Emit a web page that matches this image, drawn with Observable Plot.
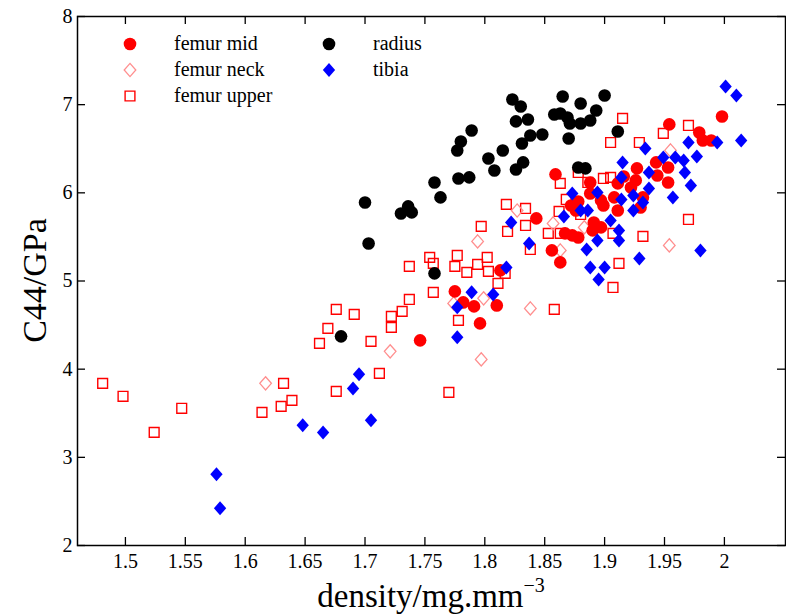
<!DOCTYPE html>
<html><head><meta charset="utf-8">
<script src="https://cdn.jsdelivr.net/npm/d3@7"></script>
<script src="https://cdn.jsdelivr.net/npm/@observablehq/plot@0.6"></script>
<style>
body{margin:0;background:#fff;}
#wrap{position:relative;width:786px;height:616px;overflow:hidden;}
#legend{position:absolute;left:0;top:0;font-family:"Liberation Serif",serif;font-size:20px;color:#000;}
.lg{position:absolute;white-space:nowrap;line-height:20px;}
.lg svg{position:absolute;}
</style></head><body><div id="wrap"></div>
<script>
const xTicks = [1.5, 1.55, 1.6, 1.65, 1.7, 1.75, 1.8, 1.85, 1.9, 1.95, 2];
const yTicks = [2, 3, 4, 5, 6, 7, 8];
const xDomain = [1.46, 2.051];
const yDomain = [2, 8];
const seriesNames = ["femur mid", "femur neck", "femur upper", "radius", "tibia"];

const femurMidX = [1.746,1.775,1.782,1.791,1.796,1.810,1.813,1.843,1.859,1.856,1.863,1.867,1.873,1.878,1.872,1.878,1.876,1.888,1.888,1.897,1.899,1.891,1.897,1.890,1.911,1.908,1.911,1.916,1.927,1.926,1.922,1.932,1.930,1.943,1.944,1.953,1.953,1.954,1.979,1.982,1.989,1.998];
const femurMidY = [4.327,4.882,4.757,4.712,4.519,4.723,5.120,5.710,6.209,5.347,5.211,5.540,5.517,5.494,5.857,5.902,5.800,6.118,5.993,5.914,5.857,5.664,5.608,5.574,5.800,5.948,6.107,6.186,6.277,6.141,6.061,5.948,5.834,6.345,6.197,6.118,6.288,6.776,6.685,6.594,6.594,6.866];

const femurNeckX = [1.617,1.721,1.774,1.797,1.794,1.799,1.838,1.827,1.857,1.883,1.863,1.954,1.955];
const femurNeckY = [3.839,4.202,4.746,4.111,5.449,4.803,4.689,5.800,5.653,5.608,5.347,5.404,6.481];

const femurUpperX = [1.481,1.498,1.524,1.547,1.614,1.632,1.630,1.639,1.662,1.669,1.676,1.676,1.691,1.705,1.712,1.722,1.722,1.731,1.737,1.737,1.754,1.757,1.757,1.770,1.775,1.777,1.778,1.785,1.794,1.802,1.803,1.811,1.817,1.818,1.797,1.819,1.834,1.834,1.862,1.853,1.863,1.880,1.907,1.932,1.970,1.912,1.907,1.858,1.838,1.863,1.868,1.886,1.899,1.905,1.878,1.915,1.905,1.929,1.949,1.970];
const femurUpperY = [3.839,3.692,3.283,3.556,3.510,3.839,3.578,3.646,4.293,4.463,4.678,3.748,4.621,4.315,3.952,4.599,4.474,4.655,4.791,5.166,5.268,5.200,4.871,3.737,5.166,5.290,4.553,5.098,5.188,5.268,5.109,4.973,5.086,5.869,5.619,5.562,5.823,5.630,5.789,5.540,5.540,5.755,5.540,5.506,5.698,5.200,4.927,4.678,5.358,6.107,5.925,6.118,6.163,6.175,6.231,6.844,6.571,6.571,6.674,6.764];

const radiusX = [1.700,1.703,1.680,1.730,1.736,1.739,1.758,1.758,1.763,1.777,1.780,1.789,1.778,1.787,1.803,1.808,1.815,1.823,1.830,1.826,1.836,1.838,1.848,1.831,1.826,1.832,1.865,1.880,1.900,1.858,1.863,1.869,1.871,1.880,1.888,1.893,1.870,1.911,1.878,1.884];
const radiusY = [5.891,5.426,4.372,5.766,5.846,5.778,5.086,6.118,5.948,6.481,6.583,6.707,6.163,6.175,6.390,6.254,6.481,7.059,6.980,6.810,6.832,6.651,6.662,6.560,6.265,6.345,7.093,7.014,7.104,6.889,6.900,6.855,6.787,6.787,6.821,6.934,6.617,6.696,6.288,6.277];

const tibiaX = [1.576,1.579,1.648,1.665,1.690,1.695,1.705,1.777,1.777,1.789,1.807,1.818,1.822,1.837,1.866,1.873,1.880,1.886,1.894,1.894,1.885,1.888,1.900,1.895,1.905,1.912,1.912,1.914,1.914,1.915,1.924,1.932,1.924,1.929,1.980,1.934,1.937,1.937,1.949,1.959,1.966,1.967,1.972,1.957,1.970,1.977,1.994,2.014,2.001,2.010];
const tibiaY = [2.807,2.422,3.363,3.283,3.782,3.941,3.420,4.361,4.701,4.871,4.848,5.154,5.664,5.426,5.732,5.993,5.800,5.800,6.005,5.460,5.358,5.154,5.154,5.018,5.687,5.574,5.460,5.925,6.175,6.345,5.971,5.891,5.800,5.256,5.347,6.503,6.231,6.050,6.401,6.401,6.367,6.231,6.084,5.948,6.571,6.413,6.571,6.594,7.206,7.104];

const toRows = (xs, ys) => xs.map((x, i) => ({x, y: ys[i]}));
const femurMid = toRows(femurMidX, femurMidY);
const femurNeck = toRows(femurNeckX, femurNeckY);
const femurUpper = toRows(femurUpperX, femurUpperY);
const radius = toRows(radiusX, radiusY);
const tibia = toRows(tibiaX, tibiaY);

// custom symbols
const circleSym = {draw(ctx, size){const r=Math.sqrt(size/Math.PI); ctx.moveTo(r,0); ctx.arc(0,0,r,0,2*Math.PI); ctx.closePath();}};
const diamondSym = {draw(ctx, size){const r=Math.sqrt(size/Math.PI); const w=r*0.88; ctx.moveTo(0,-r); ctx.lineTo(w,0); ctx.lineTo(0,r); ctx.lineTo(-w,0); ctx.closePath();}};
const squareSym = {draw(ctx, size){const r=Math.sqrt(size/Math.PI); ctx.moveTo(-r,-r); ctx.lineTo(r,-r); ctx.lineTo(r,r); ctx.lineTo(-r,r); ctx.closePath();}};

const styles = {
  "femur mid": {symbol: circleSym, r: 6.3, fill: "#ff0000", stroke: "none"},
  "femur neck": {symbol: diamondSym, r: 6.6, fill: "none", stroke: "#ff8f8f", strokeWidth: 1.3},
  "femur upper": {symbol: squareSym, r: 4.9, fill: "none", stroke: "#ff0000", strokeWidth: 1.4},
  "radius": {symbol: circleSym, r: 6.3, fill: "#000000", stroke: "none"},
  "tibia": {symbol: diamondSym, r: 7, fill: "#0000ff", stroke: "none"}
};

const W = 786, H = 616, mL = 77, mR = 1, mT = 16, mB = 71;
const fw = W - mL - mR, fh = H - mT - mB;
const tickLen = 8;

const chart = Plot.plot({
  width: W, height: H,
  marginLeft: mL, marginRight: mR, marginTop: mT, marginBottom: mB,
  x: {domain: xDomain, label: null},
  y: {domain: yDomain, label: null},
  style: {fontFamily: "Liberation Serif, serif", fontSize: "20px", color: "#000", background: "#fff"},
  marks: [
    Plot.dot(femurUpper, {x: "x", y: "y", ...styles["femur upper"]}),
    Plot.dot(femurNeck, {x: "x", y: "y", ...styles["femur neck"]}),
    Plot.dot(femurMid, {x: "x", y: "y", ...styles["femur mid"]}),
    Plot.dot(radius, {x: "x", y: "y", ...styles["radius"]}),
    Plot.dot(tibia, {x: "x", y: "y", ...styles["tibia"]}),
    Plot.frame({stroke: "#000", strokeWidth: 1.5}),
    Plot.tickX(xTicks, {x: d => d, insetTop: fh - tickLen, stroke: "#000", strokeWidth: 1.3}),
    Plot.tickX(xTicks, {x: d => d, insetBottom: fh - tickLen, stroke: "#000", strokeWidth: 1.3}),
    Plot.tickY(yTicks, {y: d => d, insetRight: fw - tickLen, stroke: "#000", strokeWidth: 1.3}),
    Plot.tickY(yTicks, {y: d => d, insetLeft: fw - tickLen, stroke: "#000", strokeWidth: 1.3}),
    Plot.axisX(xTicks, {tickSize: 0, tickPadding: 8, fontSize: 20, tickFormat: d => String(d), label: null}),
    Plot.axisY(yTicks, {tickSize: 0, tickPadding: 5, fontSize: 20, tickFormat: d => String(d), label: null})
  ]
});

const wrap = document.getElementById("wrap");
wrap.appendChild(chart);

// axis titles
const svg = d3.select(chart);
const xt = svg.append("text")
  .attr("x", mL + fw / 2).attr("y", 607)
  .attr("text-anchor", "middle")
  .attr("font-family", "Liberation Serif, serif").attr("font-size", 33).attr("fill", "#000");
xt.append("tspan").text("density/mg.mm");
xt.append("tspan").text("\u22123").attr("font-size", 20).attr("dy", -15);

svg.append("text")
  .attr("transform", `translate(38,${mT + fh / 2}) rotate(-90)`)
  .attr("text-anchor", "middle").attr("dominant-baseline", "middle")
  .attr("font-family", "Liberation Serif, serif").attr("font-size", 34).attr("fill", "#000")
  .text("C44/GPa");

// legend
const legend = document.createElement("div");
legend.id = "legend";
wrap.appendChild(legend);
const legendPos = [
  {name: "femur mid", mx: 130, tx: 174, y: 44},
  {name: "femur neck", mx: 130, tx: 174, y: 70},
  {name: "femur upper", mx: 130, tx: 174, y: 96},
  {name: "radius", mx: 329, tx: 373, y: 44},
  {name: "tibia", mx: 329, tx: 373, y: 70}
];
for (const p of legendPos) {
  const st = styles[p.name];
  const s = d3.create("svg").attr("width", 20).attr("height", 20)
    .style("left", (p.mx - 10) + "px").style("top", (p.y - 10) + "px").style("position", "absolute");
  const path = d3.path();
  st.symbol.draw(path, Math.PI * st.r * st.r);
  s.append("path").attr("transform", "translate(10,10)").attr("d", path.toString())
    .attr("fill", st.fill).attr("stroke", st.stroke).attr("stroke-width", st.strokeWidth || 0);
  legend.appendChild(s.node());
  const t = document.createElement("div");
  t.className = "lg";
  t.style.left = p.tx + "px";
  t.style.top = (p.y - 11) + "px";
  t.textContent = p.name;
  legend.appendChild(t);
}
</script>
</body></html>
